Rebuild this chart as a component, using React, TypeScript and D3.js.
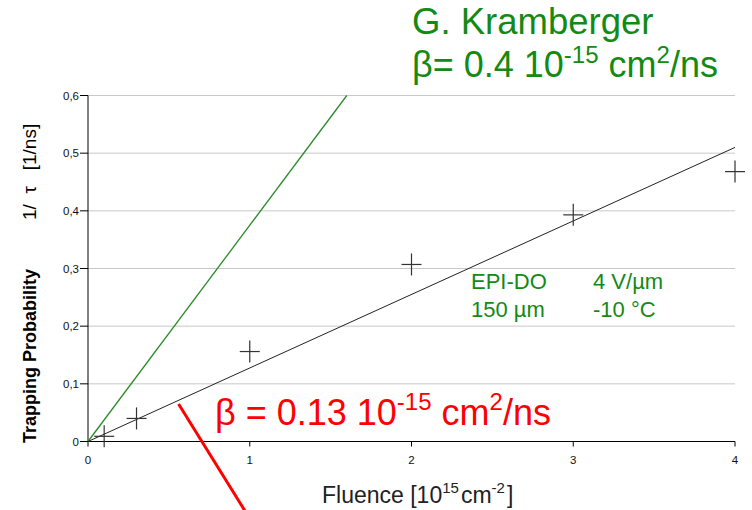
import React from "react";
import * as d3 from "d3";

const fluence = [0.1, 0.3, 1, 2, 3, 4];
const trapping = [0.009, 0.04, 0.156, 0.307, 0.393, 0.468];
const xTicks = [0, 1, 2, 3, 4];
const yTicks = [0, 0.1, 0.2, 0.3, 0.4, 0.5, 0.6];
const fitBlack = [[0, 0], [4, 0.51]];
const fitGreen = [[0, 0], [1.6, 0.6]];
const redPointer = [[0.56, 0.065], [0.97, -0.12]];

const W = 752, H = 510;
const x = d3.scaleLinear().domain([0, 4]).range([88, 735]);
const y = d3.scaleLinear().domain([0, 0.6]).range([441.5, 95.5]);
const line = d3.line<number[]>().x(d => x(d[0])).y(d => y(d[1]));
const fmt = (v: number) => (v === 0 ? "0" : d3.format(".1f")(v).replace(".", ","));

const GREEN = "#138a13";
const RED = "#ff0000";

export default function App() {
  return (
    <svg width={W} height={H} style={{ position: "absolute", left: 0, top: 0, background: "#fff" }} fontFamily="Arial, 'Liberation Sans', sans-serif">
      {/* grid */}
      {yTicks.filter(t => t > 0).map(t => (
        <line key={"g" + t} x1={x(0)} x2={x(4)} y1={y(t)} y2={y(t)} stroke="#c8c8c8" strokeWidth={1} />
      ))}
      {/* axes */}
      <line x1={x(0)} x2={x(0)} y1={y(0)} y2={y(0.6)} stroke="#000" />
      <line x1={x(0)} x2={x(4)} y1={y(0)} y2={y(0)} stroke="#000" />
      {yTicks.map(t => (
        <g key={"y" + t}>
          <line x1={x(0) - 8} x2={x(0)} y1={y(t)} y2={y(t)} stroke="#000" />
          <text x={x(0) - 9} y={y(t) + 4} fontSize={11.5} textAnchor="end" fill="#111">{fmt(t)}</text>
        </g>
      ))}
      {xTicks.map(t => (
        <g key={"x" + t}>
          <line x1={x(t)} x2={x(t)} y1={y(0)} y2={y(0) + 5} stroke="#000" />
          <text x={x(t)} y={y(0) + 22} fontSize={11.5} textAnchor="middle" fill="#111">{t}</text>
        </g>
      ))}
      {/* lines */}
      <path d={line(fitGreen) || ""} stroke="#2a8a2a" strokeWidth={1.3} fill="none" />
      <path d={line(fitBlack) || ""} stroke="#222" strokeWidth={1} fill="none" />
      {/* crosses */}
      {fluence.map((f, i) => (
        <g key={"p" + i} stroke="#333" strokeWidth={1.2}>
          <line x1={x(f) - 10} x2={x(f) + 10} y1={y(trapping[i])} y2={y(trapping[i])} />
          <line x1={x(f)} x2={x(f)} y1={y(trapping[i]) - 11} y2={y(trapping[i]) + 11} />
        </g>
      ))}
      {/* red pointer */}
      <path d={line(redPointer) || ""} stroke={RED} strokeWidth={3} fill="none" />
      {/* y-axis title */}
      <g transform="translate(36,443) rotate(-90)">
        <text x={0} y={0} fontSize={18} fontWeight="bold">Trapping Probability</text>
      </g>
      <g transform="translate(36,220) rotate(-90)">
        <text x={0} y={0} fontSize={19} style={{ whiteSpace: "pre" }}>{"1/  τ   [1/ns]"}</text>
      </g>
      {/* x-axis title */}
      <text x={322} y={503} fontSize={23} fill="#222" style={{ whiteSpace: "pre" }}>
        <tspan>Fluence [10</tspan>
        <tspan fontSize={15} dy={-10}>15</tspan>
        <tspan dy={10} dx={2}>cm</tspan>
        <tspan fontSize={15} dy={-10}>-2</tspan>
        <tspan dy={10} dx={2}>]</tspan>
      </text>
      {/* annotations */}
      <text x={412} y={34} fontSize={36.5} fill={GREEN}>G. Kramberger</text>
      <text x={412} y={77} fontSize={36} fill={GREEN}>
        <tspan>β= 0.4 10</tspan>
        <tspan fontSize={24} dy={-14}>-15</tspan>
        <tspan dy={14}> cm</tspan>
        <tspan fontSize={24} dy={-14}>2</tspan>
        <tspan dy={14}>/ns</tspan>
      </text>
      <text x={471} y={289} fontSize={22} fill={GREEN}>EPI-DO</text>
      <text x={593} y={289} fontSize={22} fill={GREEN}>4 V/µm</text>
      <text x={471} y={317} fontSize={22} fill={GREEN}>150 µm</text>
      <text x={593} y={317} fontSize={22} fill={GREEN}>-10 °C</text>
      <text x={215} y={425} fontSize={36} fill={RED}>
        <tspan>β = 0.13 10</tspan>
        <tspan fontSize={24} dy={-15}>-15</tspan>
        <tspan dy={15}> cm</tspan>
        <tspan fontSize={24} dy={-15}>2</tspan>
        <tspan dy={15}>/ns</tspan>
      </text>
    </svg>
  );
}
